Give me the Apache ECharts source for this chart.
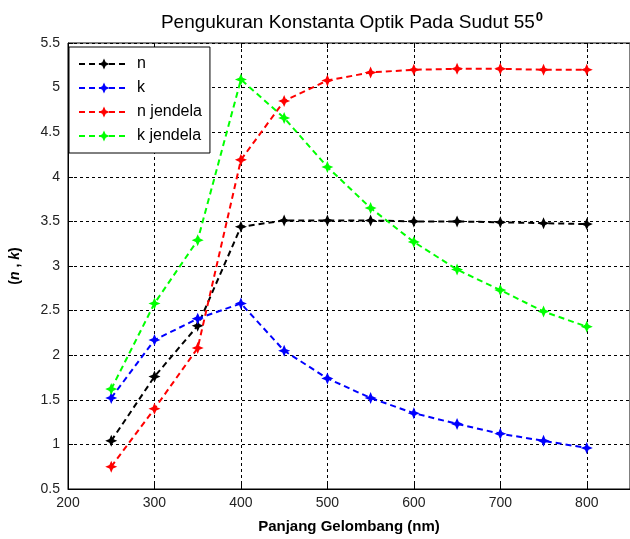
<!DOCTYPE html>
<html>
<head>
<meta charset="utf-8">
<script src="https://cdn.jsdelivr.net/npm/echarts@6/dist/echarts.min.js"></script>
<style>
  html, body { margin: 0; padding: 0; background: #fff; }
  #chart { width: 630px; height: 539px; }
</style>
</head>
<body>
<div id="chart"></div>
<script>
// Wavelengths (nm)
var wavelengths = [250, 300, 350, 400, 450, 500, 550, 600, 650, 700, 750, 800];

// Optical constants measured at 55 degrees
var nValues        = [1.04, 1.76, 2.33, 3.44, 3.51, 3.51, 3.51, 3.50, 3.50, 3.49, 3.48, 3.47];
var kValues        = [1.52, 2.17, 2.41, 2.58, 2.05, 1.74, 1.52, 1.35, 1.23, 1.12, 1.04, 0.96];
var nJendelaValues = [0.75, 1.40, 2.08, 4.19, 4.85, 5.08, 5.17, 5.20, 5.21, 5.21, 5.20, 5.20];
var kJendelaValues = [1.62, 2.58, 3.29, 5.09, 4.66, 4.11, 3.65, 3.27, 2.96, 2.73, 2.49, 2.32];

var seriesNames = ['n', 'k', 'n jendela', 'k jendela'];
var seriesColors = ['#000000', '#0000ff', '#ff0000', '#00ff00'];
var seriesValues = [nValues, kValues, nJendelaValues, kJendelaValues];

// four-point star marker
var starMarker = 'path://M0,-10 L3,-3 L10,0 L3,3 L0,10 L-3,3 L-10,0 L-3,-3 Z';

function pairs(xs, ys) {
  return xs.map(function (x, i) { return [x, ys[i]]; });
}

var font = 'Liberation Sans, Arial, sans-serif';

var chart = echarts.init(document.getElementById('chart'));
chart.setOption({
  animation: false,
  backgroundColor: '#ffffff',
  title: {
    text: 'Pengukuran Konstanta Optik Pada Sudut 55{sup|0}',
    left: 347,
    top: 6,
    textAlign: 'center',
    textStyle: {
      fontFamily: font,
      fontSize: 19,
      fontWeight: 'normal',
      color: '#000',
      rich: {
        sup: { fontFamily: font, fontSize: 13, fontWeight: 'bold', verticalAlign: 'top', padding: [0, 0, 10, 1], color: '#000' }
      }
    }
  },
  legend: {
    orient: 'vertical',
    left: 69,
    top: 47,
    padding: [9, 8, 9, 9],
    itemGap: 8,
    itemWidth: 50,
    itemHeight: 14,
    backgroundColor: '#ffffff',
    borderColor: '#000000',
    borderWidth: 1,
    borderRadius: 0,
    data: seriesNames,
    textStyle: { fontFamily: font, fontSize: 16, color: '#000', lineHeight: 14, padding: [0, 0, 0, 3] }
  },
  grid: {
    left: 66,
    right: 0,
    top: 43,
    bottom: 50,
    show: true,
    borderColor: '#000',
    borderWidth: 1
  },
  xAxis: [{
    type: 'value',
    min: 200,
    max: 850,
    interval: 100,
    name: 'Panjang Gelombang (nm)',
    nameLocation: 'middle',
    nameGap: 30,
    nameTextStyle: { fontFamily: font, fontSize: 15, fontWeight: 'bold', color: '#000' },
    axisLine: { show: true, lineStyle: { color: '#000', width: 1 } },
    axisTick: { show: true, inside: true, length: 5, lineStyle: { color: '#000' } },
    axisLabel: { fontFamily: font, fontSize: 14, color: '#222', margin: 7, showMaxLabel: false },
    splitLine: { show: true, lineStyle: { color: '#000', type: [3, 3], width: 1 } }
  }, {
    type: 'value',
    position: 'top',
    min: 200,
    max: 850,
    interval: 100,
    axisLine: { show: false },
    axisTick: { show: true, inside: true, length: 5, lineStyle: { color: '#000' } },
    axisLabel: { show: false },
    splitLine: { show: false }
  }],
  yAxis: {
    type: 'value',
    min: 0.5,
    max: 5.5,
    interval: 0.5,
    name: '{p|(}{i|n}{p| , }{i|k}{p|)}',
    nameLocation: 'middle',
    nameGap: 46,
    nameRotate: 90,
    nameTextStyle: {
      rich: {
        p: { fontFamily: font, fontSize: 14, fontWeight: 'bold', color: '#000' },
        i: { fontFamily: font, fontSize: 14, fontWeight: 'bold', fontStyle: 'italic', color: '#000' }
      }
    },
    axisLine: { show: true, lineStyle: { color: '#000', width: 1 } },
    axisTick: { show: true, inside: true, length: 5, lineStyle: { color: '#000' } },
    axisLabel: { fontFamily: font, fontSize: 14, color: '#222', margin: 8 },
    splitLine: { show: true, lineStyle: { color: '#000', type: [3, 3], width: 1 } }
  },
  series: seriesNames.map(function (name, i) {
    return {
      name: name,
      type: 'line',
      xAxisIndex: 0,
      data: pairs(wavelengths, seriesValues[i]),
      symbol: starMarker,
      symbolSize: 12,
      showAllSymbol: true,
      itemStyle: { color: seriesColors[i], borderWidth: 0 },
      lineStyle: { color: seriesColors[i], width: 2, type: [6, 4] },
      z: 3 + i
    };
  })
});
</script>
</body>
</html>
